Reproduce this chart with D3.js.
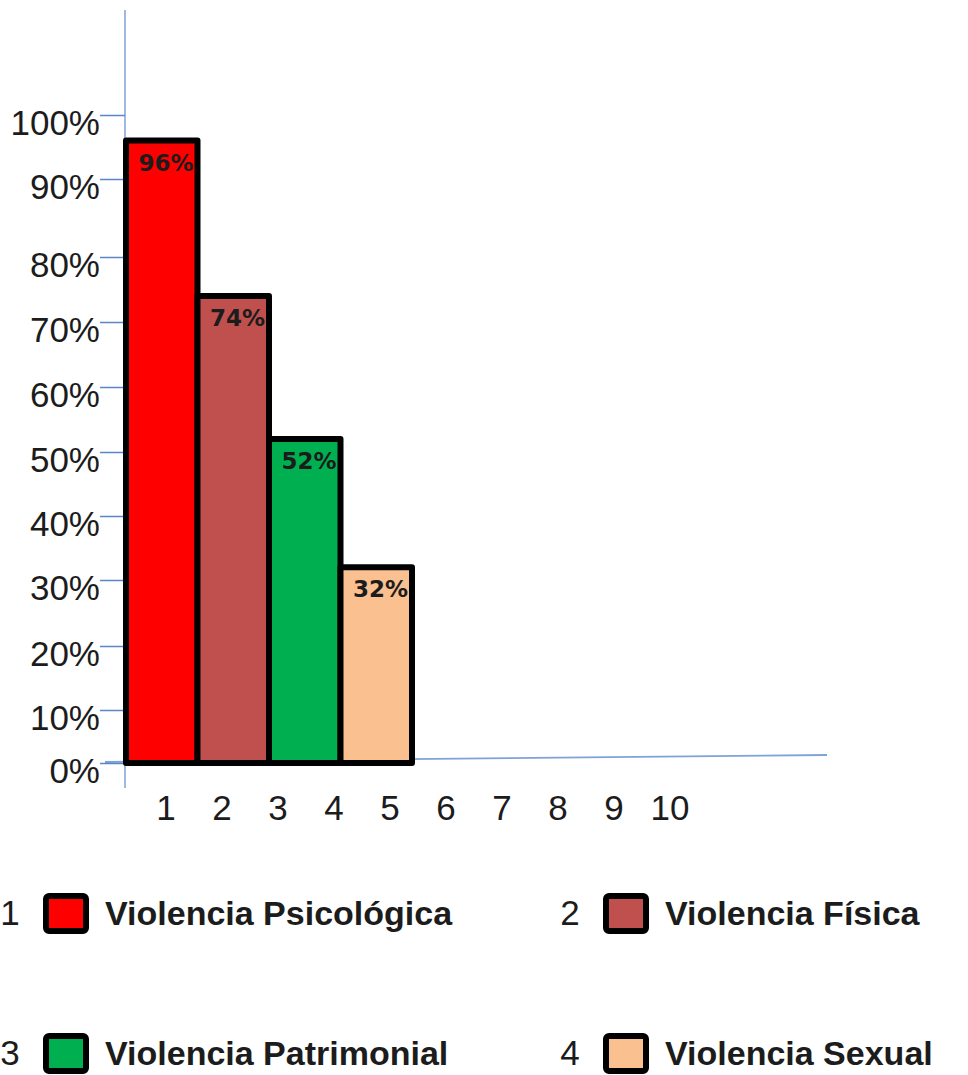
<!DOCTYPE html>
<html>
<head>
<meta charset="utf-8">
<script src="https://cdn.jsdelivr.net/npm/d3@7"></script>
<style>
  body { margin: 0; background: #ffffff; }
  svg { display: block; }
</style>
</head>
<body>
<svg id="chart" width="968" height="1075"></svg>
<script>
// Types of violence and the share reported for each
const categories = ["Violencia Psicológica", "Violencia Física", "Violencia Patrimonial", "Violencia Sexual"];
const values = [0.96, 0.74, 0.52, 0.32];
const barColors = ["#ff0000", "#c0504d", "#00b050", "#fac090"];
const legendNumbers = ["1", "2", "3", "4"];

// Axis ticks
const yTickValues = [0, 0.1, 0.2, 0.3, 0.4, 0.5, 0.6, 0.7, 0.8, 0.9, 1.0];
const xTickLabels = [1, 2, 3, 4, 5, 6, 7, 8, 9, 10];

const svg = d3.select("#chart");
const axisBlue = "#5a86c8";
const textColor = "#1c1c1c";

// Hand-spaced vertical scale: each tick sits at its own drawn height
const y = d3.scaleLinear()
  .domain(yTickValues)
  .range([763, 710, 646, 580, 516, 452, 387, 322, 257, 179, 115]);

const x = d3.scaleBand().domain(categories).range([126, 412]).padding(0);
const xNum = d3.scalePoint().domain(xTickLabels).range([166, 670]);

// Axis lines
svg.append("line")
  .attr("x1", 125).attr("x2", 125).attr("y1", 10).attr("y2", 788)
  .attr("stroke", "#7ea3d8").attr("stroke-width", 1.5);
svg.append("line")
  .attr("x1", 105).attr("y1", 762).attr("x2", 827).attr("y2", 755)
  .attr("stroke", "#7ea3d8").attr("stroke-width", 1.8);

// Y axis ticks and percentage labels
const gy = svg.append("g")
  .attr("transform", "translate(125,0)")
  .call(d3.axisLeft(y).tickValues(yTickValues).tickFormat(d3.format(".0%")).tickSize(25));
gy.select(".domain").remove();
gy.selectAll(".tick line").attr("stroke", axisBlue).attr("stroke-width", 1.5);
gy.selectAll(".tick text")
  .attr("x", -25)
  .attr("dy", "0.56em")
  .attr("fill", textColor)
  .style("font-family", "'Liberation Sans', Arial, sans-serif")
  .style("font-size", "35px");

// Bars
svg.append("g").selectAll("rect")
  .data(categories)
  .join("rect")
  .attr("x", d => x(d))
  .attr("width", x.bandwidth())
  .attr("y", (d, i) => y(values[i]))
  .attr("height", (d, i) => y(0) - y(values[i]))
  .attr("fill", (d, i) => barColors[i])
  .attr("stroke", "#000")
  .attr("stroke-width", 6)
  .attr("stroke-linejoin", "round");

// Value labels inside the top of each bar
svg.append("g").selectAll("text")
  .data(categories)
  .join("text")
  .attr("x", d => x(d) + x.bandwidth() - 4)
  .attr("y", (d, i) => y(values[i]) + 30)
  .attr("text-anchor", "end")
  .attr("fill", textColor)
  .style("font-family", "'DejaVu Sans', Verdana, sans-serif")
  .style("font-weight", "bold")
  .style("font-size", "23px")
  .text((d, i) => d3.format(".0%")(values[i]));

// Numbered x labels
svg.append("g").selectAll("text")
  .data(xTickLabels)
  .join("text")
  .attr("x", d => xNum(d))
  .attr("y", 820)
  .attr("text-anchor", "middle")
  .attr("fill", textColor)
  .style("font-family", "'Liberation Sans', Arial, sans-serif")
  .style("font-size", "35px")
  .text(d => d);

// Legend: two columns, two rows
const legendCols = [0, 560];
const legendRows = [925, 1065];
const legend = svg.append("g").selectAll("g")
  .data(categories)
  .join("g")
  .attr("transform", (d, i) => `translate(${legendCols[i % 2]},${legendRows[Math.floor(i / 2)]})`);

legend.append("text")
  .attr("x", 10)
  .attr("text-anchor", "middle")
  .attr("fill", textColor)
  .style("font-family", "'Liberation Sans', Arial, sans-serif")
  .style("font-size", "35px")
  .text((d, i) => legendNumbers[i]);

legend.append("rect")
  .attr("x", 46).attr("y", -29)
  .attr("width", 40).attr("height", 35)
  .attr("rx", 3)
  .attr("fill", (d, i) => barColors[i])
  .attr("stroke", "#000")
  .attr("stroke-width", 6);

legend.append("text")
  .attr("x", 105)
  .attr("fill", textColor)
  .style("font-family", "'Liberation Sans', Arial, sans-serif")
  .style("font-weight", "bold")
  .style("font-size", "34px")
  .text(d => d);
</script>
</body>
</html>
